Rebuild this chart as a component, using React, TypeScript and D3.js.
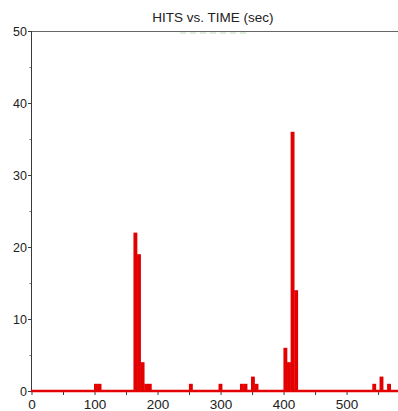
import { useEffect, useRef } from 'react'
import * as d3 from 'd3'

// histogram bins: start time (sec) and hit count, each bin BIN seconds wide
const binStart = [98.4, 104.1, 161, 166.7, 172.4, 178.1, 183.8, 249, 296, 330, 335.7, 347.5, 353.2, 399, 404.7, 410.4, 416.1, 540, 551.5, 563.5]
const hits = [1, 1, 22, 19, 4, 1, 1, 1, 1, 1, 1, 2, 1, 6, 4, 36, 14, 1, 2, 1]
const BIN = 5.7
const yTicks = [0, 10, 20, 30, 40, 50]
const yMinor = [5, 15, 25, 35, 45]
const xTicks = [0, 100, 200, 300, 400, 500]
const xMinor = [50, 150, 250, 350, 450, 550]
const title = 'HITS vs. TIME (sec)'

export default function App() {
  const ref = useRef<SVGSVGElement>(null)

  useEffect(() => {
    const svg = d3.select(ref.current!)
    svg.selectAll('*').remove()
    const W = 398, H = 411
    svg.attr('width', W).attr('height', H)
    const font = 'Liberation Sans, Arial, sans-serif'
    const x = d3.scaleLinear().domain([0, 580]).range([32, 397.5])
    const y = d3.scaleLinear().domain([0, 50]).range([391, 31])
    const axisC = '#3a3a3a', red = '#e30000'

    svg.append('rect').attr('width', W).attr('height', H).attr('fill', '#fff')

    svg.append('text').attr('x', 213).attr('y', 22).attr('text-anchor', 'middle')
      .attr('font-family', font).attr('font-size', 13.5).attr('fill', '#222').text(title)

    // faint clipped legend under the title
    svg.append('line').attr('x1', 180).attr('x2', 250).attr('y1', 33).attr('y2', 33)
      .attr('stroke', '#8fc98f').attr('stroke-width', 1).attr('stroke-dasharray', '6,4').attr('opacity', 0.6)

    // frame top
    svg.append('line').attr('x1', 31).attr('x2', W).attr('y1', 31.5).attr('y2', 31.5).attr('stroke', '#666').attr('stroke-width', 1)
    // left axis
    svg.append('line').attr('x1', 31.5).attr('x2', 31.5).attr('y1', 31).attr('y2', 392).attr('stroke', axisC).attr('stroke-width', 1)

    yTicks.forEach(t => {
      svg.append('line').attr('x1', 28).attr('x2', 31).attr('y1', y(t) + 0.5).attr('y2', y(t) + 0.5).attr('stroke', axisC)
      svg.append('text').attr('x', 27).attr('y', y(t) + 4.5).attr('text-anchor', 'end')
        .attr('font-family', font).attr('font-size', 12.5).attr('fill', '#222').text(t)
    })
    yMinor.forEach(t => {
      svg.append('line').attr('x1', 29.5).attr('x2', 31).attr('y1', y(t) + 0.5).attr('y2', y(t) + 0.5).attr('stroke', '#777')
    })

    // x ticks
    xTicks.concat(xMinor).forEach(t => {
      svg.append('line').attr('x1', x(t)).attr('x2', x(t)).attr('y1', 391).attr('y2', 395).attr('stroke', axisC)
    })
    xTicks.forEach(t => {
      svg.append('text').attr('x', x(t)).attr('y', 409).attr('text-anchor', 'middle')
        .attr('font-family', font).attr('font-size', 13.5).attr('fill', '#222').text(t)
    })

    // bars
    binStart.forEach((s, i) => {
      svg.append('rect').attr('x', x(s)).attr('width', x(s + BIN) - x(s) + 0.3)
        .attr('y', y(hits[i])).attr('height', y(0) - y(hits[i])).attr('fill', red)
    })
    // zero-height bins drawn as a red baseline
    svg.append('line').attr('x1', 31).attr('x2', W).attr('y1', 391).attr('y2', 391)
      .attr('stroke', red).attr('stroke-width', 2.5)
  }, [])

  return <svg ref={ref} style={{ position: 'absolute', left: 0, top: 0 }} />
}
